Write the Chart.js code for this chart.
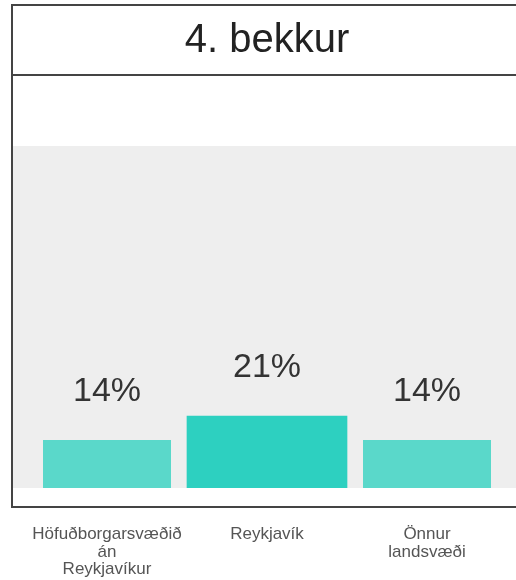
<!DOCTYPE html>
<html>
<head>
<meta charset="utf-8">
<script src="https://cdn.jsdelivr.net/npm/chart.js@4.4.1/dist/chart.umd.min.js"></script>
<style>
  body { margin: 0; background: #fff; }
  canvas { display: block; }
</style>
</head>
<body>
<canvas id="myChart" width="516" height="580"></canvas>
<script>
// data
var categories = [['Höfuðborgarsvæðið', 'án', 'Reykjavíkur'], ['Reykjavík'], ['Önnur', 'landsvæði']];
var values = [14, 21, 14];
var highlighted = [false, true, false];

var FONT = '"Liberation Sans", Arial, sans-serif';

// gray plot background + frame around the whole chart
var frame = {
  id: 'frame',
  beforeDatasetsDraw: function (chart) {
    var c = chart.ctx, a = chart.chartArea;
    c.save();
    c.fillStyle = '#eeeeee';
    c.fillRect(13, a.top, chart.width - 13, a.bottom - a.top);
    c.restore();
  },
  afterDraw: function (chart) {
    var c = chart.ctx;
    c.save();
    c.strokeStyle = '#444';
    c.lineWidth = 2;
    c.strokeRect(12, 5, 506, 502);
    c.beginPath();
    c.moveTo(12, 75);
    c.lineTo(chart.width, 75);
    c.stroke();
    c.restore();
  }
};

// percent labels above the bars
var valueLabels = {
  id: 'valueLabels',
  afterDatasetsDraw: function (chart) {
    var c = chart.ctx;
    c.save();
    c.font = '34px ' + FONT;
    c.fillStyle = '#333';
    c.textAlign = 'center';
    c.textBaseline = 'alphabetic';
    chart.data.datasets.forEach(function (ds, i) {
      chart.getDatasetMeta(i).data.forEach(function (bar, j) {
        if (ds.data[j] == null) return;
        c.fillText(ds.data[j] + '%', bar.x, bar.y - 39);
      });
    });
    c.restore();
  }
};

var ctx = document.getElementById('myChart');
var myChart = new Chart(ctx, {
  type: 'bar',
  data: {
    labels: categories,
    datasets: [{
      data: values.map(function (v, i) { return highlighted[i] ? null : v; }),
      backgroundColor: '#5ad8ca',
      barPercentage: 0.8,
      categoryPercentage: 1
    }, {
      data: values.map(function (v, i) { return highlighted[i] ? v : null; }),
      backgroundColor: '#2dd0c0',
      barPercentage: 1,
      categoryPercentage: 1
    }]
  },
  options: {
    responsive: false,
    animation: false,
    grouped: false,
    layout: { padding: { left: 27, right: 9, top: 0, bottom: 0 } },
    plugins: {
      legend: { display: false },
      tooltip: { enabled: false },
      title: {
        display: true,
        text: '4. bekkur',
        color: '#222',
        font: { family: FONT, size: 40, weight: 'normal', lineHeight: 1.2 },
        padding: { top: 17, bottom: 81 }
      }
    },
    scales: {
      x: {
        grid: { display: false },
        border: { display: false },
        ticks: {
          color: '#555',
          font: { family: FONT, size: 17, lineHeight: 1.03 },
          padding: 30,
          maxRotation: 0,
          autoSkip: false
        },
        afterFit: function (s) {
          s.height = 92;
          s.paddingLeft = 0;
          s.paddingRight = 0;
        }
      },
      y: {
        display: false,
        min: 0,
        max: 100
      }
    }
  },
  plugins: [frame, valueLabels]
});
</script>
</body>
</html>
